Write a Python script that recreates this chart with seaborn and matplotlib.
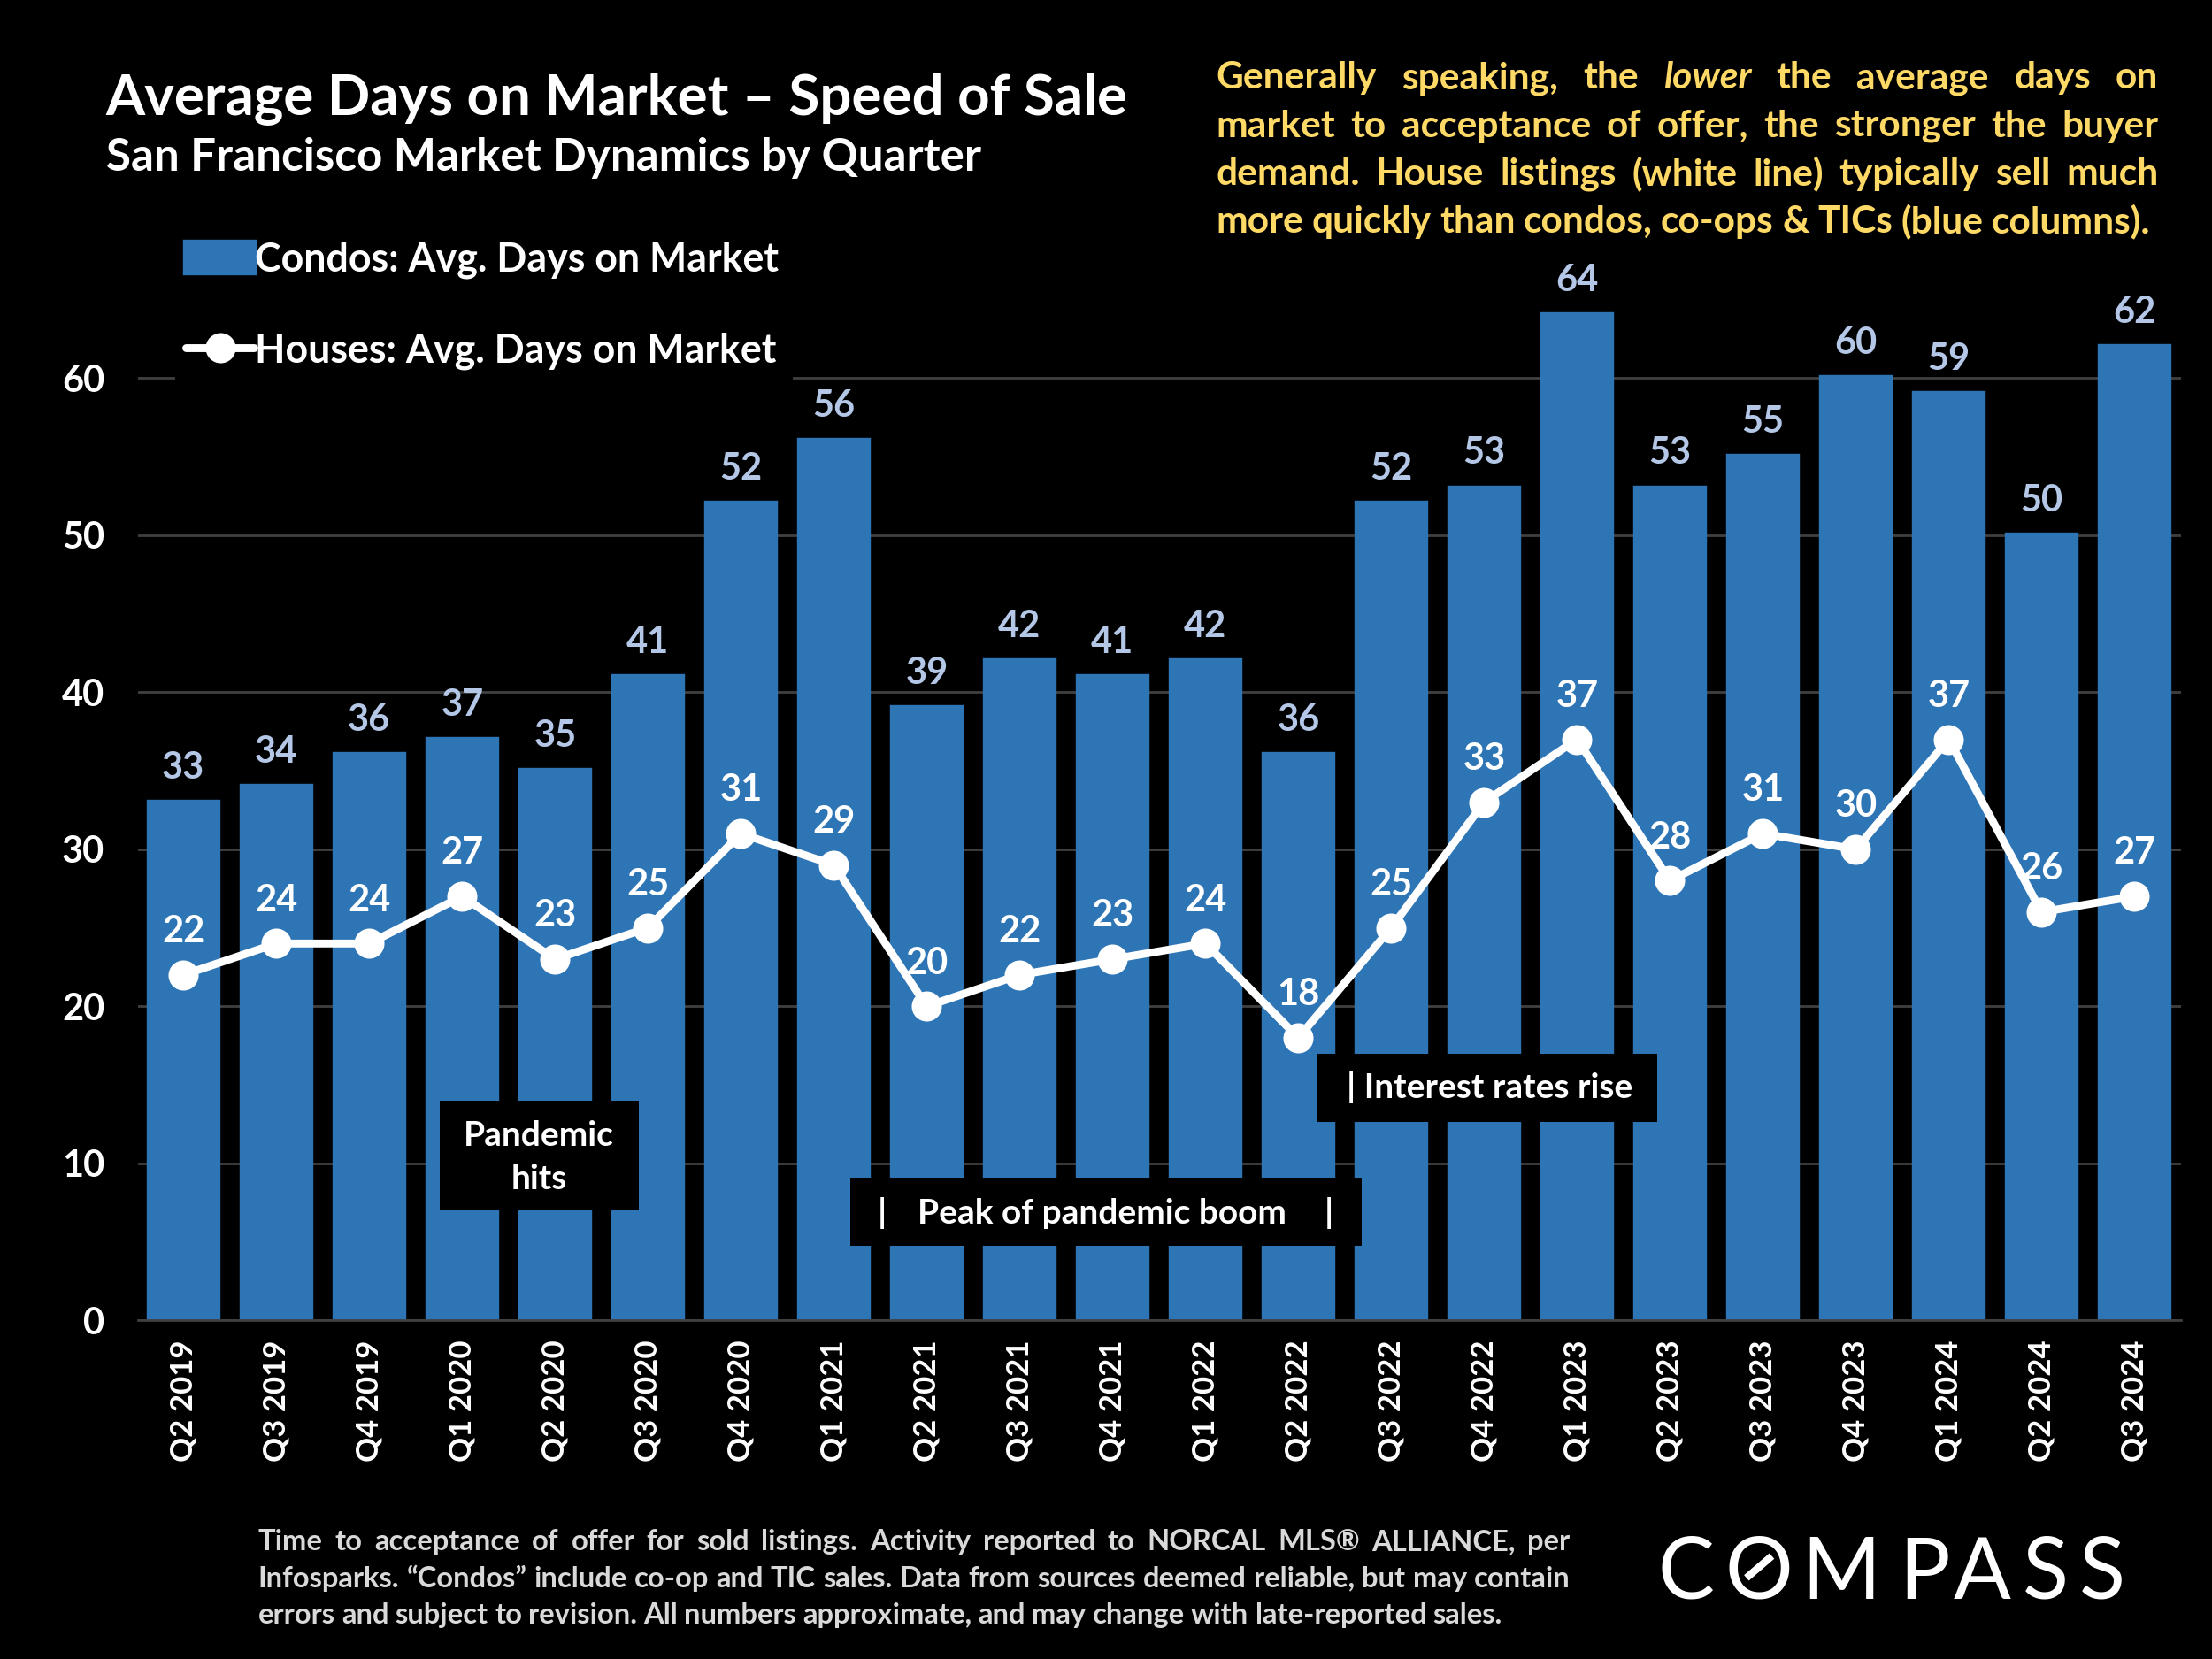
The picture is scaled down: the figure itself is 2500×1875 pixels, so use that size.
import numpy as np
import pandas as pd
import matplotlib
matplotlib.use("Agg")
import matplotlib.pyplot as plt
from matplotlib.patches import Rectangle
from matplotlib.lines import Line2D
import seaborn as sns

quarters = ["Q2 2019", "Q3 2019", "Q4 2019", "Q1 2020", "Q2 2020", "Q3 2020", "Q4 2020", "Q1 2021",
            "Q2 2021", "Q3 2021", "Q4 2021", "Q1 2022", "Q2 2022", "Q3 2022", "Q4 2022", "Q1 2023",
            "Q2 2023", "Q3 2023", "Q4 2023", "Q1 2024", "Q2 2024", "Q3 2024"]
condos = [33, 34, 36, 37, 35, 41, 52, 56, 39, 42, 41, 42, 36, 52, 53, 64, 53, 55, 60, 59, 50, 62]
houses = [22, 24, 24, 27, 23, 25, 31, 29, 20, 22, 23, 24, 18, 25, 33, 37, 28, 31, 30, 37, 26, 27]
y_ticks = [0, 10, 20, 30, 40, 50, 60]

BLUE = "#2E75B6"
LABEL_BLUE = "#B4C7E7"
YELLOW = "#FFD966"
GRID = "#404040"

sns.set_theme(style="dark", rc={"axes.facecolor": "black", "figure.facecolor": "black"})
plt.rcParams["font.family"] = ["Lato", "DejaVu Sans"]
plt.rcParams["font.weight"] = "bold"

fig = plt.figure(figsize=(12.5, 9.375), dpi=200)


# positions below are in the 1568x1176 view of the slide
def fx(x):
    return x / 1568


def fy(y):
    return 1 - y / 1176


y_top = 70
ax_top = 936 - y_top * (936 - 268) / 60
ax = fig.add_axes([fx(98), fy(936), fx(1546 - 98), (936 - ax_top) / 1176])

df = pd.DataFrame({"quarter": quarters, "condos": condos, "houses": houses})
sns.barplot(data=df, x="quarter", y="condos", color=BLUE, saturation=1, width=0.73, linewidth=2.3,
            edgecolor=BLUE, label="Condos: Avg. Days on Market", ax=ax, zorder=2)
sns.lineplot(x=np.arange(len(quarters)), y=houses, color="white", lw=3.2, marker="o", markersize=11.5,
             markeredgecolor="white", label="Houses: Avg. Days on Market", ax=ax, zorder=3, sort=False)

ax.set_xlim(-0.486, 21.5)
ax.set_ylim(0, y_top)
ax.set_yticks(y_ticks)
ax.set_xlabel("")
ax.set_ylabel("")
ax.grid(axis="y", color=GRID, lw=1.0, zorder=0)
ax.set_axisbelow(True)
ax.tick_params(axis="x", labelrotation=90, labelsize=12.5, colors="white", pad=8, length=0)
ax.tick_params(axis="y", labelsize=15, colors="white", pad=13.7, length=0)
for s in ["top", "right", "left"]:
    ax.spines[s].set_visible(False)
ax.spines["bottom"].set_color(GRID)
ax.spines["bottom"].set_linewidth(1.0)

# data labels
for i, (c, h) in enumerate(zip(condos, houses)):
    ax.annotate(str(c), (i, c), xytext=(0, 24.5 * 1.594 * 72 / 200), textcoords="offset points",
                ha="center", va="center", color=LABEL_BLUE, fontsize=15, zorder=4)
    ax.annotate(str(h), (i, h), xytext=(0, 30.5 * 1.594 * 72 / 200), textcoords="offset points",
                ha="center", va="center", color="white", fontsize=15, zorder=4)

# black patch behind the legend, cuts the top gridline
ax.add_patch(Rectangle((fx(124), fy(273)), fx(562 - 124), (273 - 160) / 1176, transform=fig.transFigure,
                       facecolor="black", edgecolor="none", zorder=1, clip_on=False))
handles, labels = ax.get_legend_handles_labels()
bar_h = [h for h, l in zip(handles, labels) if l.startswith("Condos")][0]
line_h = [h for h, l in zip(handles, labels) if l.startswith("Houses")][0]
leg = ax.legend([bar_h, line_h], ["Condos: Avg. Days on Market", "Houses: Avg. Days on Market"],
                loc="upper left", bbox_to_anchor=(fx(132), fy(171)), bbox_transform=fig.transFigure,
                frameon=False, fontsize=16.1, labelspacing=1.35, handlelength=1.71, handleheight=0.79,
                handletextpad=0.03, borderpad=0, borderaxespad=0, labelcolor="white")
leg.set_zorder(6)

# callout boxes
for x0, y0, x1, y1 in [(312, 780, 453, 858), (603, 835, 965, 883), (933, 747, 1175, 795)]:
    fig.add_artist(Rectangle((fx(x0), fy(y1)), fx(x1 - x0), (y1 - y0) / 1176, transform=fig.transFigure,
                             facecolor="black", edgecolor="none", zorder=5))
callouts = [("Pandemic", 382, 805), ("hits", 382, 836), ("|", 625, 860), ("Peak of pandemic boom", 781, 860),
            ("|", 942, 860), ("| Interest rates rise", 1056, 771)]
for txt, x, y in callouts:
    fig.text(fx(x), fy(y), txt, color="white", fontsize=14, ha="center", va="center", zorder=6)

# titles
fig.text(fx(75), fy(81), "Average Days on Market \u2013 Speed of Sale", color="white", fontsize=22.9, va="baseline")
fig.text(fx(75), fy(121), "San Francisco Market Dynamics by Quarter", color="white", fontsize=18.4, va="baseline")

renderer = fig.canvas.get_renderer()


def word_widths(words, size):
    out = []
    for w, style in words:
        t = fig.text(0, 0, w, fontsize=size, style=style)
        out.append(t.get_window_extent(renderer).width)
        t.remove()
    return out


def justified(line, x0, x1, y, size, color, justify=True):
    words = [(w[1:], "italic") if w.startswith("*") else (w, "normal") for w in line.split()]
    widths = word_widths(words, size)
    total = (x1 - x0) * 2500 / 1568
    if justify:
        gap = (total - sum(widths)) / (len(words) - 1)
    else:
        gap = size * 0.22 * 200 / 72
    x = x0 * 2500 / 1568
    for (w, style), wd in zip(words, widths):
        fig.text(x / 2500, fy(y), w, fontsize=size, style=style, color=color, va="baseline")
        x += wd + gap


note = ["Generally speaking, the *lower the average days on",
        "market to acceptance of offer, the stronger the buyer",
        "demand. House listings (white line) typically sell much",
        "more quickly than condos, co-ops & TICs (blue columns)."]
for i, line in enumerate(note):
    justified(line, 862, 1530, 63 + 34 * i, 15.3, YELLOW, justify=i < 3)

footer = ["Time to acceptance of offer for sold listings. Activity reported to NORCAL MLS\u00ae ALLIANCE, per",
          "Infosparks. \u201cCondos\u201d include co-op and TIC sales. Data from sources deemed reliable, but may contain",
          "errors and subject to revision. All numbers approximate, and may change with late-reported sales."]
for i, line in enumerate(footer):
    justified(line, 183, 1113, 1099 + 26 * i, 11.8, "#D9D9D9", justify=i < 2)

# compass logo
logo = [("C", 1195), ("O", 1247), ("M", 1305), ("P", 1364), ("A", 1405), ("S", 1450), ("S", 1490)]
for ch, x in logo:
    fig.text(fx(x), fy(1111), ch, color="white", fontsize=34.5, weight="normal", ha="center", va="center_baseline",
             family="Lato")
fig.add_artist(Line2D([fx(1238), fx(1256)], [fy(1118.5), fy(1103)], color="white", lw=3, transform=fig.transFigure,
                      zorder=6, solid_capstyle="butt"))

fig.savefig("out.png", dpi=200, facecolor="black")
